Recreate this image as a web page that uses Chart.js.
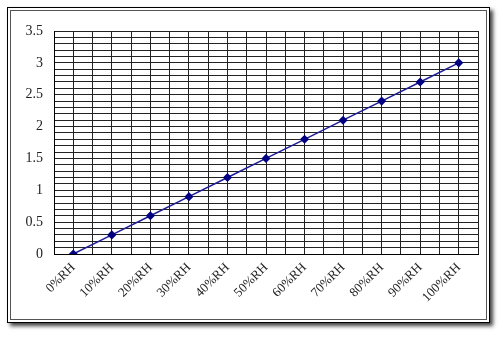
<!DOCTYPE html>
<html>
<head>
<meta charset="utf-8">
<script src="https://cdn.jsdelivr.net/npm/chart.js@4"></script>
<style>
  body { margin: 0; background: #fff; }
  #wrap { position: relative; width: 503px; height: 337px; overflow: hidden; }
  .frame {
    position: absolute; left: 7px; top: 7px; width: 481px; height: 314px;
    border: 1px solid #000; background: #fff;
    box-shadow: 3px 3px 4px rgba(0,0,0,0.75);
  }
  .inner {
    position: absolute; left: 2px; top: 2px; right: 2px; bottom: 2px;
    border: 1px solid #555;
  }
  canvas { position: absolute; left: 0; top: 0; }
</style>
</head>
<body>
<div id="wrap">
  <div class="frame"><div class="inner"></div></div>
  <canvas id="rhChart" width="503" height="337"></canvas>
</div>
<script>
// humidity categories and output values
const categories = ['0%RH', '10%RH', '20%RH', '30%RH', '40%RH', '50%RH', '60%RH', '70%RH', '80%RH', '90%RH', '100%RH'];
const values = [0, 0.3, 0.6, 0.9, 1.2, 1.5, 1.8, 2.1, 2.4, 2.7, 3.0];
const yTicks = [0, 0.5, 1, 1.5, 2, 2.5, 3, 3.5];

const points = values.map(function (v, i) { return { x: i, y: v }; });

const ctx = document.getElementById('rhChart').getContext('2d');
const rhChart = new Chart(ctx, {
  type: 'line',
  data: {
    datasets: [{
      data: points,
      borderColor: '#1c1c96',
      borderWidth: 1.5,
      pointStyle: 'rectRot',
      pointRadius: 3.5,
      pointBackgroundColor: '#000080',
      pointBorderColor: '#000080',
      tension: 0
    }]
  },
  options: {
    responsive: false,
    animation: false,
    layout: { padding: { top: 31, right: 25, left: 0, bottom: 0 } },
    plugins: { legend: { display: false }, tooltip: { enabled: false } },
    scales: {
      x: {
        type: 'linear',
        min: -0.5,
        max: 10.5,
        afterBuildTicks: function (scale) {
          const t = [];
          for (let i = 0; i <= 22; i++) t.push({ value: -0.5 + i * 0.5 });
          scale.ticks = t;
        },
        afterFit: function (scale) { scale.height = 83; },
        grid: { color: '#222', lineWidth: 1, drawTicks: false },
        border: { color: '#000', width: 1 },
        ticks: {
          autoSkip: false,
          maxRotation: 45,
          minRotation: 45,
          padding: 6,
          color: '#222',
          font: { family: 'Liberation Serif', size: 13 },
          callback: function (v) {
            return Number.isInteger(v) ? categories[v] : '';
          }
        }
      },
      y: {
        min: 0,
        max: 3.5,
        afterBuildTicks: function (scale) {
          const t = [];
          for (let i = 0; i <= 35; i++) t.push({ value: i / 10 });
          scale.ticks = t;
        },
        afterFit: function (scale) { scale.width = 54; },
        grid: { color: '#222', lineWidth: 1, drawTicks: false },
        border: { color: '#000', width: 1 },
        ticks: {
          autoSkip: false,
          padding: 11,
          color: '#222',
          font: { family: 'Liberation Serif', size: 14 },
          callback: function (v) {
            const hit = yTicks.find(function (t) { return Math.abs(t - v) < 1e-6; });
            return hit === undefined ? '' : String(hit);
          }
        }
      }
    }
  }
});
</script>
</body>
</html>
